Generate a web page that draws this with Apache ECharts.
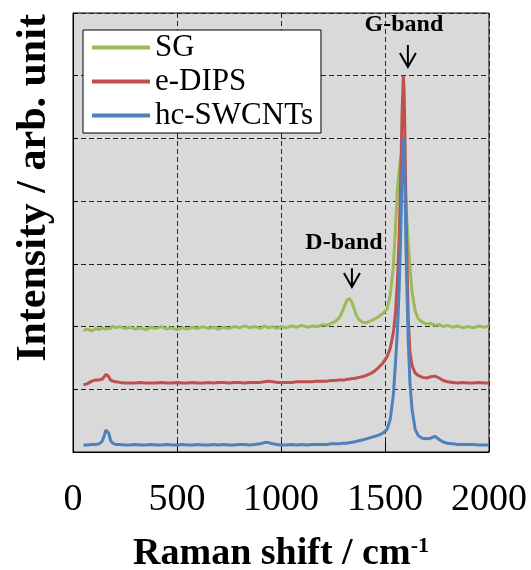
<!DOCTYPE html>
<html>
<head>
<meta charset="utf-8">
<script src="https://cdn.jsdelivr.net/npm/echarts@6/dist/echarts.min.js"></script>
<style>
html,body{margin:0;padding:0;background:#fff;}
#c{width:531px;height:570px;}
</style>
</head>
<body>
<div id="c"></div>
<script>
// Raman shift (cm-1)
const ramanShift = [50,70,90,110,125,140,150,158,165,172,
  180,190,205,225,250,275,300,325,350,375,
  400,425,450,475,500,525,550,575,600,625,
  650,675,700,725,750,775,800,825,850,875,
  900,920,940,960,980,1000,1025,1050,1075,1100,
  1125,1150,1175,1200,1220,1240,1260,1280,1295,1308,
  1318,1328,1338,1350,1362,1375,1390,1410,1430,1450,
  1470,1490,1510,1525,1540,1550,1560,1568,1575,1582,
  1588,1592,1596,1600,1606,1612,1620,1630,1645,1660,
  1680,1700,1720,1740,1760,1780,1800,1825,1850,1875,
  1900,1925,1950,1975,2000];

const sgIntensity = [1.94,1.96,1.93,1.97,1.95,1.98,1.96,1.99,1.97,2.00,
  1.97,2.01,1.98,2.00,1.97,1.99,1.96,1.98,1.95,1.99,
  1.97,2.00,1.96,1.98,1.95,1.98,1.96,1.99,1.97,2.00,
  1.97,1.99,1.96,1.99,1.97,2.00,1.98,2.01,1.98,2.00,
  1.97,2.01,1.98,2.00,1.97,2.00,1.98,2.01,1.99,2.02,
  1.99,2.01,2.00,2.03,2.02,2.05,2.08,2.14,2.24,2.35,
  2.42,2.45,2.41,2.30,2.18,2.11,2.07,2.06,2.09,2.12,
  2.16,2.21,2.28,2.50,2.95,3.55,4.20,4.50,4.68,4.78,
  4.75,4.60,4.35,4.05,3.65,3.30,2.95,2.55,2.25,2.12,
  2.07,2.04,2.05,2.02,2.03,2.00,2.02,1.99,2.01,1.98,
  2.00,1.98,2.01,1.99,2.01];

const eDipsIntensity = [1.07,1.09,1.13,1.15,1.15,1.16,1.20,1.24,1.25,1.20,
  1.15,1.13,1.12,1.11,1.10,1.10,1.10,1.11,1.10,1.10,
  1.10,1.11,1.10,1.10,1.11,1.10,1.10,1.11,1.10,1.10,
  1.11,1.10,1.11,1.11,1.10,1.11,1.11,1.10,1.11,1.11,
  1.11,1.12,1.13,1.12,1.11,1.11,1.11,1.11,1.12,1.12,
  1.12,1.12,1.13,1.13,1.13,1.14,1.14,1.15,1.15,1.15,
  1.16,1.16,1.17,1.17,1.18,1.19,1.20,1.22,1.25,1.29,
  1.35,1.42,1.52,1.65,1.90,2.20,2.75,3.40,4.30,5.40,
  6.00,5.75,5.00,4.10,3.00,2.10,1.60,1.38,1.26,1.22,
  1.19,1.18,1.20,1.21,1.18,1.14,1.12,1.11,1.10,1.11,
  1.10,1.10,1.11,1.10,1.10];

const hcSwcntIntensity = [0.11,0.11,0.12,0.12,0.13,0.17,0.26,0.35,0.37,0.30,
  0.19,0.14,0.12,0.12,0.11,0.11,0.12,0.11,0.11,0.12,
  0.11,0.11,0.12,0.11,0.11,0.12,0.11,0.11,0.12,0.11,
  0.11,0.12,0.11,0.12,0.11,0.11,0.12,0.12,0.11,0.12,
  0.13,0.15,0.15,0.13,0.12,0.11,0.11,0.12,0.11,0.12,
  0.11,0.12,0.12,0.12,0.12,0.13,0.13,0.13,0.14,0.14,
  0.14,0.15,0.15,0.16,0.17,0.18,0.19,0.21,0.23,0.25,
  0.27,0.30,0.36,0.52,0.90,1.40,1.95,2.60,3.40,4.40,
  5.00,4.90,4.30,3.40,2.50,1.75,1.10,0.68,0.36,0.26,
  0.22,0.21,0.22,0.25,0.20,0.16,0.14,0.13,0.12,0.12,
  0.12,0.12,0.11,0.11,0.11];

const seriesNames = ['SG', 'e-DIPS', 'hc-SWCNTs'];
const seriesColors = ['#9BBB59', '#C0504D', '#4F81BD'];
const xTicks = [0, 500, 1000, 1500, 2000];

// band annotations (data coordinates)
const bandLabels = ['G-band', 'D-band'];
const bandArrowX = [1610, 1341];
const bandArrowTop = [6.49, 2.93];
const bandArrowTip = [6.14, 2.63];
const bandLabelX = [1591, 1303];
const bandLabelY = [6.81, 3.33];

const serif = '"Liberation Serif", "Times New Roman", serif';

function pairs(ys) { return ramanShift.map((x, i) => [x, ys[i]]); }
const allY = [sgIntensity, eDipsIntensity, hcSwcntIntensity];

const lineSeries = seriesNames.map((n, i) => ({
  name: n, type: 'line', data: pairs(allY[i]), showSymbol: false, symbol: 'none',
  lineStyle: { color: seriesColors[i], width: 3 }, itemStyle: { color: seriesColors[i] },
  animation: false, z: 3 + i
}));

const annotData = bandLabels.map((t, i) => [bandArrowX[i], bandArrowTop[i], bandArrowTip[i], bandLabelX[i], bandLabelY[i]]);

const annotSeries = {
  type: 'custom', name: 'annot', coordinateSystem: 'cartesian2d', silent: true, clip: false, z: 10,
  animation: false,
  data: annotData,
  renderItem: function (params, api) {
    const top = api.coord([api.value(0), api.value(1)]);
    const tip = api.coord([api.value(0), api.value(2)]);
    const lab = api.coord([api.value(3), api.value(4)]);
    return { type: 'group', children: [
      { type: 'line', shape: { x1: top[0], y1: top[1], x2: tip[0], y2: tip[1] }, style: { stroke: '#000', lineWidth: 2 } },
      { type: 'polyline', shape: { points: [[tip[0] - 8, tip[1] - 14], [tip[0], tip[1]], [tip[0] + 8, tip[1] - 14]] }, style: { stroke: '#000', lineWidth: 2, fill: null } },
      { type: 'text', x: lab[0], y: lab[1], style: { text: bandLabels[params.dataIndex], font: 'bold 24px ' + serif, fill: '#000', align: 'center', verticalAlign: 'middle' } }
    ] };
  }
};

const chart = echarts.init(document.getElementById('c'), null, { renderer: 'canvas' });
chart.setOption({
  animation: false,
  backgroundColor: '#fff',
  grid: { left: 73, top: 13, right: 42, bottom: 118, show: true, backgroundColor: '#d9d9d9', borderColor: '#000', borderWidth: 1, containLabel: false, outerBoundsMode: 'none' },
  legend: {
    data: seriesNames, orient: 'vertical', left: 83, top: 30,
    icon: 'rect', itemWidth: 58, itemHeight: 4, itemGap: 3,
    padding: [2, 8, 2, 9], backgroundColor: '#fff', borderColor: '#000', borderWidth: 1, borderRadius: 0,
    textStyle: { fontFamily: serif, fontSize: 31, lineHeight: 30, color: '#000' },
    selectedMode: false
  },
  xAxis: {
    type: 'value', min: xTicks[0], max: xTicks[xTicks.length - 1], interval: 500,
    axisLine: { show: true, lineStyle: { color: '#000', width: 1 } },
    axisTick: { show: true, inside: true, length: 10, lineStyle: { color: '#000' } },
    axisLabel: { fontFamily: serif, fontSize: 38, color: '#000', margin: 29, formatter: function (v) { return String(v); } },
    splitLine: { show: true, lineStyle: { color: '#222', width: 1, type: [5, 3] } },
    name: '{a|Raman shift / cm}{b|-1}', nameLocation: 'middle', nameGap: 83,
    nameTextStyle: { rich: {
      a: { fontFamily: serif, fontSize: 38, fontWeight: 'bold', color: '#000', lineHeight: 38 },
      b: { fontFamily: serif, fontSize: 22, fontWeight: 'bold', color: '#000', verticalAlign: 'top', lineHeight: 38 }
    } }
  },
  yAxis: {
    type: 'value', min: 0, max: 7, interval: 1,
    axisLine: { show: true, lineStyle: { color: '#000', width: 1 } },
    axisTick: { show: true, inside: true, length: 5, lineStyle: { color: '#000' } },
    axisLabel: { show: false },
    splitLine: { show: true, lineStyle: { color: '#222', width: 1, type: [5, 3] } }
  },
  graphic: [{
    type: 'text', x: 34, y: 188, rotation: Math.PI / 2,
    style: { text: 'Intensity / arb. unit', font: 'bold 42px ' + serif, fill: '#000', align: 'center', verticalAlign: 'middle' }
  }],
  series: lineSeries.concat([annotSeries])
});
</script>
</body>
</html>
